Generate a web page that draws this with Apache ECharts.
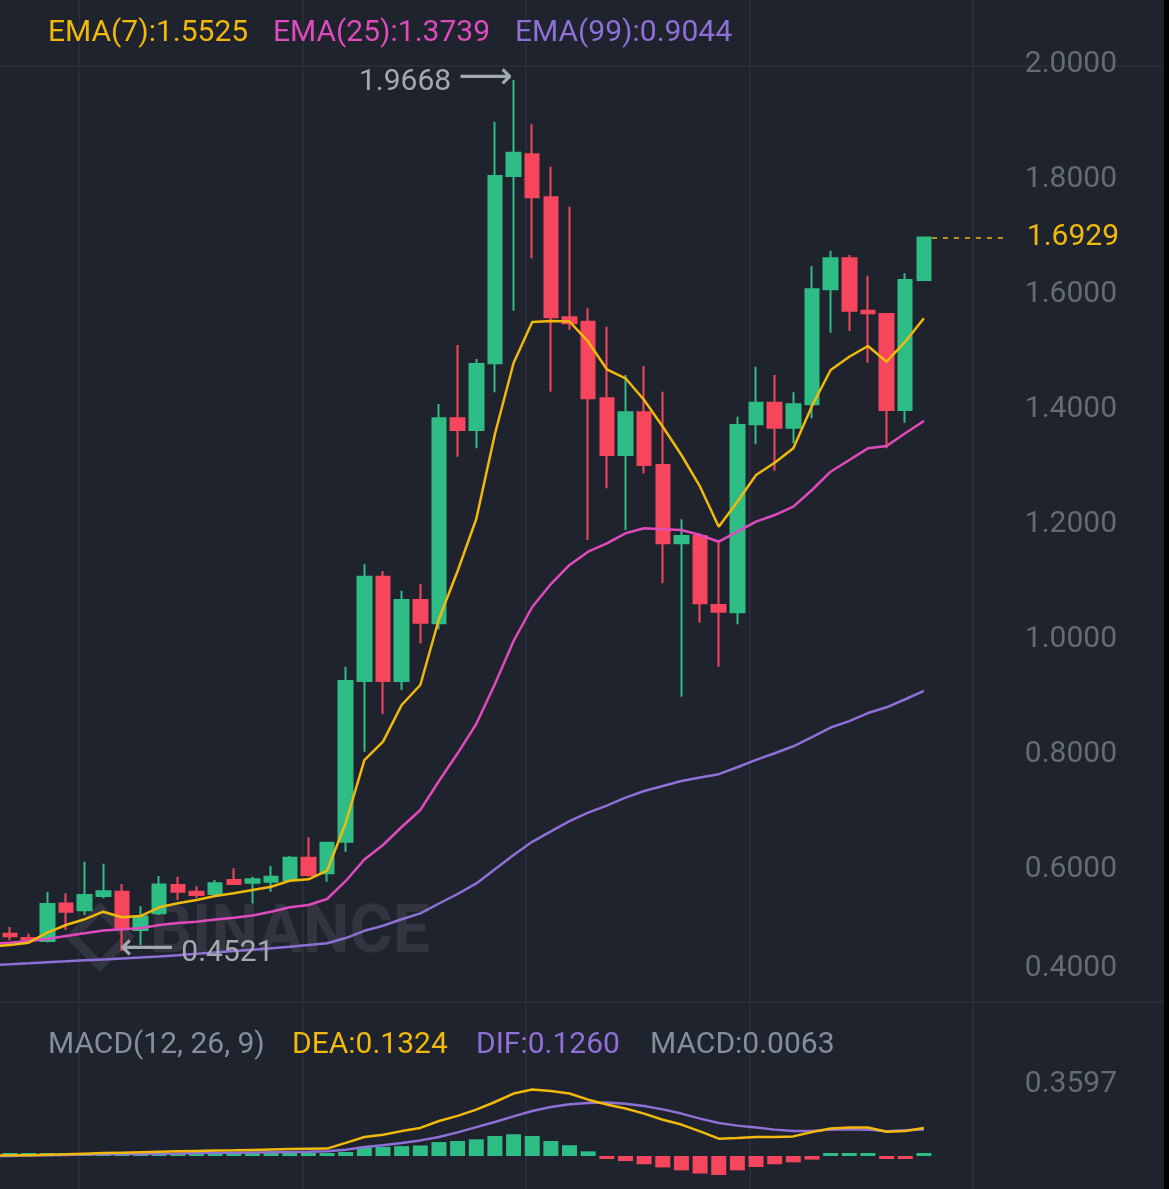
<!DOCTYPE html>
<html>
<head>
<meta charset="utf-8">
<script src="https://cdn.jsdelivr.net/npm/echarts@6/dist/echarts.min.js"></script>
<style>
html,body{margin:0;padding:0;background:#1f232d;}
#c{width:1169px;height:1189px;}
</style>
</head>
<body>
<div id="c"></div>
<script>
// ---- data ----
const opens  = [0.482,0.475,0.4696,0.535,0.523,0.548,0.5553,0.4887,0.5177,0.567,
                0.5553,0.5513,0.5757,0.571,0.5727,0.5757,0.6145,0.5873,0.6423,0.9217,
                1.1031,0.9217,1.0626,1.0220,1.3786,1.3583,1.4742,1.80,1.8377,1.763,
                1.5543,1.5467,1.4133,1.3148,1.389,1.2974,1.1612,1.1739,1.0539,1.0412,
                1.3682,1.4057,1.3623,1.403,1.603,1.6568,1.5657,1.56,1.393,1.6191];
const closes = [0.478,0.472,0.534,0.5205,0.5496,0.556,0.49,0.512,0.568,0.5553,
                0.5496,0.570,0.5687,0.577,0.5814,0.6145,0.5843,0.6405,0.9217,1.1031,
                0.9217,1.0626,1.0231,1.3786,1.3583,1.473,1.80,1.8405,1.763,1.5543,
                1.5438,1.4133,1.3148,1.389,1.2974,1.1612,1.1739,1.0569,1.0423,1.367,
                1.4057,1.3623,1.403,1.603,1.6568,1.5657,1.5612,1.393,1.6191,1.6929];
const lows   = [0.471,0.469,0.467,0.489,0.5148,0.544,0.4521,0.4626,0.5148,0.541,
                0.5443,0.5496,0.567,0.535,0.5553,0.5745,0.5814,0.5727,0.6249,0.7988,
                0.8638,0.9061,0.9873,1.0116,1.3118,1.3264,1.4238,1.5657,1.6569,1.4249,
                1.532,1.1669,1.2569,1.1843,1.283,1.0917,0.8944,1.0231,0.9466,1.0203,
                1.3334,1.2875,1.3351,1.3786,1.5275,1.5304,1.4753,1.3264,1.371,1.6191];
const highs  = [0.494,0.482,0.555,0.5525,0.6075,0.604,0.5687,0.530,0.5826,0.5814,
                0.565,0.5757,0.596,0.5814,0.600,0.6174,0.650,0.642,0.9466,1.1247,
                1.1130,1.0788,1.0904,1.4035,1.506,1.4817,1.8944,1.9668,1.890,1.8162,
                1.7466,1.570,1.5379,1.4539,1.4696,1.4249,1.203,1.178,1.164,1.3814,
                1.4684,1.4539,1.4238,1.6435,1.670,1.6626,1.6266,1.5612,1.6307,1.6929];

const ema7  = [0.4626,0.4666,0.4840,0.4974,0.5073,0.5205,0.5108,0.5130,0.5282,0.5351,
               0.5409,0.5478,0.5525,0.5583,0.5640,0.5744,0.5769,0.5918,0.6748,0.7843,
               0.8162,0.8800,0.9148,1.0296,1.1130,1.2035,1.3513,1.4748,1.5461,1.5478,
               1.5470,1.5118,1.4638,1.4482,1.4104,1.3640,1.3148,1.2597,1.1901,1.2336,
               1.2800,1.3014,1.3264,1.4000,1.4626,1.4857,1.5043,1.4770,1.5118,1.5525];
const ema25 = [0.4666,0.4696,0.4730,0.4783,0.4830,0.4878,0.4900,0.4916,0.4974,0.5009,
               0.5031,0.5070,0.5101,0.5139,0.5205,0.5282,0.5322,0.5426,0.5740,0.6113,
               0.6365,0.6678,0.6974,0.7478,0.7960,0.8470,0.9165,0.9913,1.0504,1.0904,
               1.1235,1.1466,1.1612,1.1786,1.1873,1.1856,1.1843,1.1757,1.1640,1.1814,
               1.1988,1.2104,1.2249,1.2539,1.2857,1.3061,1.3264,1.3304,1.3525,1.3739];
const ema99 = [0.4290,0.4307,0.4325,0.4342,0.4360,0.4376,0.4392,0.4408,0.4425,0.4448,
               0.4472,0.4496,0.4520,0.4545,0.4570,0.4595,0.4625,0.4656,0.4747,0.4873,
               0.4960,0.5073,0.5176,0.5348,0.5513,0.5697,0.5943,0.6192,0.6421,0.6603,
               0.6780,0.6927,0.7051,0.7188,0.7304,0.7390,0.7477,0.7539,0.7597,0.7718,
               0.7845,0.7961,0.8082,0.8241,0.8408,0.8520,0.8660,0.8760,0.8900,0.9044];

const dea  = [0.003,0.004,0.006,0.008,0.011,0.014,0.016,0.018,0.020,0.022,
              0.024,0.026,0.027,0.029,0.031,0.033,0.034,0.035,0.062,0.090,
              0.101,0.118,0.133,0.166,0.190,0.220,0.256,0.296,0.315,0.308,
              0.296,0.267,0.244,0.225,0.201,0.172,0.149,0.117,0.082,0.085,
              0.090,0.090,0.093,0.114,0.130,0.135,0.135,0.115,0.118,0.1324];
const dif  = [0.000,0.002,0.004,0.005,0.007,0.008,0.009,0.010,0.011,0.012,
              0.014,0.015,0.016,0.017,0.018,0.019,0.020,0.022,0.030,0.043,
              0.051,0.062,0.074,0.090,0.112,0.137,0.161,0.188,0.213,0.232,
              0.245,0.251,0.253,0.248,0.237,0.221,0.201,0.177,0.156,0.144,
              0.135,0.125,0.118,0.118,0.125,0.127,0.125,0.117,0.122,0.1260];
const macdHist = [0.005,0.005,0.005,0.005,0.005,0.005,0.005,0.005,0.005,0.005,
                  0.005,0.005,0.005,0.005,0.005,0.005,0.005,0.005,0.019,0.043,
                  0.043,0.047,0.050,0.066,0.071,0.079,0.095,0.103,0.095,0.071,
                  0.051,0.022,-0.012,-0.024,-0.039,-0.054,-0.068,-0.083,-0.090,-0.068,
                  -0.052,-0.039,-0.030,-0.017,0.005,0.005,0.005,-0.012,-0.007,0.0063];

// values of the indicator lines one candle before the visible range (they run off the left edge)
const prevEma7 = 0.4600, prevEma25 = 0.4645, prevEma99 = 0.4275, prevDea = 0.002, prevDif = 0.000;

const priceTicks = [0.4,0.6,0.8,1.0,1.2,1.4,1.6,1.8,2.0];
const macdTicks  = [0.3597];
const timeLines  = [3.68,15.67,27.66,39.65,51.64];   // vertical time grid, in candle units
const paneTopValue = 1.9913;                          // top border of price pane
const macdLegendValue = 0.0063;

// ---- chart ----
const N = closes.length;
const candleData = closes.map((c,i)=>[i, opens[i], c, lows[i], highs[i]]);
const xy = (arr, prev) => [[-1, prev]].concat(arr.map((v,i)=>[i,v]));

const UP='#2ebd85', DOWN='#f6465d', YEL='#f0b90b', PINK='#df4bbd', PURP='#8f70d6', GRID='#2c313b', AXT='#646b76';
const FONT='Roboto, "DejaVu Sans", sans-serif';

const xCommon = {
  type:'value', min:-0.536, max:61.82,
  axisLabel:{show:false},
  axisTick:{show:false, customValues:timeLines},
  splitLine:{show:true, customValues:timeLines, lineStyle:{color:GRID, width:1.5}}
};

const chart = echarts.init(document.getElementById('c'), null, {renderer:'canvas', width:1169, height:1189});
const ttl = (text, left, top, color) => ({text, left, top, padding:0,
  textStyle:{color, fontSize:30, fontWeight:'normal', fontFamily:FONT, lineHeight:30}});

chart.setOption({
  backgroundColor:'#1f232d',
  animation:false,
  title:[
    ttl('EMA(7):'+ema7[N-1].toFixed(4), 48, 18, YEL),
    ttl('EMA(25):'+ema25[N-1].toFixed(4), 273, 18, PINK),
    ttl('EMA(99):'+ema99[N-1].toFixed(4), 515, 18, PURP),
    ttl('MACD(12, 26, 9)', 48, 1030, '#848e9c'),
    ttl('DEA:'+dea[N-1].toFixed(4), 292, 1030, YEL),
    ttl('DIF:'+dif[N-1].toFixed(4), 476, 1030, PURP),
    ttl('MACD:'+macdLegendValue.toFixed(4), 650, 1030, '#848e9c')
  ],
  grid:[
    {left:0, right:6, top:0, bottom:187},
    {left:0, right:6, top:1002, bottom:0}
  ],
  xAxis:[
    Object.assign({gridIndex:0, axisLine:{show:true, onZero:false, lineStyle:{color:GRID, width:1.5}}}, xCommon),
    Object.assign({gridIndex:1, axisLine:{show:false}}, xCommon)
  ],
  yAxis:[
    {type:'value', gridIndex:0, position:'right', min:0.36348, max:2.10609,
     axisLine:{show:false},
     axisTick:{show:false, customValues:[paneTopValue]},
     splitLine:{show:true, customValues:[paneTopValue], lineStyle:{color:GRID, width:1.5}},
     axisLabel:{inside:true, margin:46, customValues:priceTicks, color:AXT, fontSize:30, fontFamily:FONT,
       formatter:v => Math.abs(v-0.4)<1e-9 ? '{lo|'+v.toFixed(4)+'}' : '{n|'+v.toFixed(4)+'}',
       rich:{
         n:{color:AXT, fontSize:30, fontFamily:FONT, padding:[6,0,0,0]},
         lo:{color:AXT, fontSize:30, fontFamily:FONT, padding:[0,0,26,0]}
       }}
    },
    {type:'value', gridIndex:1, position:'right', min:-0.1564, max:0.7299,
     axisLine:{show:false}, axisTick:{show:false}, splitLine:{show:false},
     axisLabel:{inside:true, margin:46, customValues:macdTicks, color:AXT, fontSize:30, fontFamily:FONT,
       formatter:v => '{n|'+v.toFixed(4)+'}',
       rich:{n:{color:AXT, fontSize:30, fontFamily:FONT, padding:[8,0,0,0]}}}
    }
  ],
  series:[
    {type:'candlestick', xAxisIndex:0, yAxisIndex:0, data:candleData, barWidth:14,
     itemStyle:{color:UP, color0:DOWN, borderColor:UP, borderColor0:DOWN, borderWidth:2},
     markPoint:{
       symbol:'circle', symbolSize:1, itemStyle:{color:'rgba(0,0,0,0)'}, silent:true,
       label:{color:'#a3a9b1', fontSize:30, fontFamily:FONT,
              rich:{a:{color:'#a3a9b1', fontSize:38, fontFamily:'"DejaVu Sans", sans-serif', padding:[0,0,4,0]},
                    v:{color:'#a3a9b1', fontSize:30, fontFamily:FONT, padding:[4,0,0,0]}}},
       data:[
         {type:'max', valueDim:'highest', label:{position:'left', distance:0,
           formatter:p => '{v|'+p.value.toFixed(4)+'} {a|⟶}'}},
         {type:'min', valueDim:'lowest', label:{position:'right', distance:-3,
           formatter:p => '{a|⟵} {v|'+p.value.toFixed(4)+'}'}}
       ]
     },
     markLine:{
       symbol:['none','none'], silent:true,
       lineStyle:{color:YEL, type:[5,6], width:1.5},
       label:{show:true, position:'end', distance:19, color:YEL, fontSize:30, fontFamily:FONT,
              padding:[5,0,0,0], formatter:() => closes[N-1].toFixed(4)},
       data:[[{coord:[N-1+0.43, closes[N-1]]},{coord:[N-1+4.5, closes[N-1]]}]]
     }
    },
    {type:'line', xAxisIndex:0, yAxisIndex:0, data:xy(ema99, prevEma99), showSymbol:false, silent:true, lineStyle:{color:PURP, width:2.5}},
    {type:'line', xAxisIndex:0, yAxisIndex:0, data:xy(ema25, prevEma25), showSymbol:false, silent:true, lineStyle:{color:PINK, width:2.5}},
    {type:'line', xAxisIndex:0, yAxisIndex:0, data:xy(ema7, prevEma7),  showSymbol:false, silent:true, lineStyle:{color:YEL, width:2.5}},
    {type:'bar', xAxisIndex:1, yAxisIndex:1, data:macdHist.map((v,i)=>[i,v]), barWidth:15, barMinHeight:3, silent:true,
     itemStyle:{color:p => p.value[1] >= 0 ? UP : DOWN}},
    {type:'line', xAxisIndex:1, yAxisIndex:1, data:xy(dif, prevDif), showSymbol:false, silent:true, lineStyle:{color:PURP, width:2.5}},
    {type:'line', xAxisIndex:1, yAxisIndex:1, data:xy(dea, prevDea), showSymbol:false, silent:true, lineStyle:{color:YEL, width:2.5}}
  ],
  graphic:[
    {type:'text', left:150, top:902, z:0, silent:true,
     style:{text:'BINANCE', fill:'rgba(255,255,255,0.085)', font:'bold 66px '+FONT}},
    {type:'rect', x:100, y:937, originX:0, originY:0, rotation:Math.PI/4, z:0, silent:true,
     shape:{x:-20, y:-20, width:40, height:40},
     style:{fill:'none', stroke:'rgba(255,255,255,0.085)', lineWidth:9}},
    {type:'rect', x:1164, y:0, z:100, silent:true, shape:{width:5, height:1189}, style:{fill:'#000'}}
  ]
});
</script>
</body>
</html>
